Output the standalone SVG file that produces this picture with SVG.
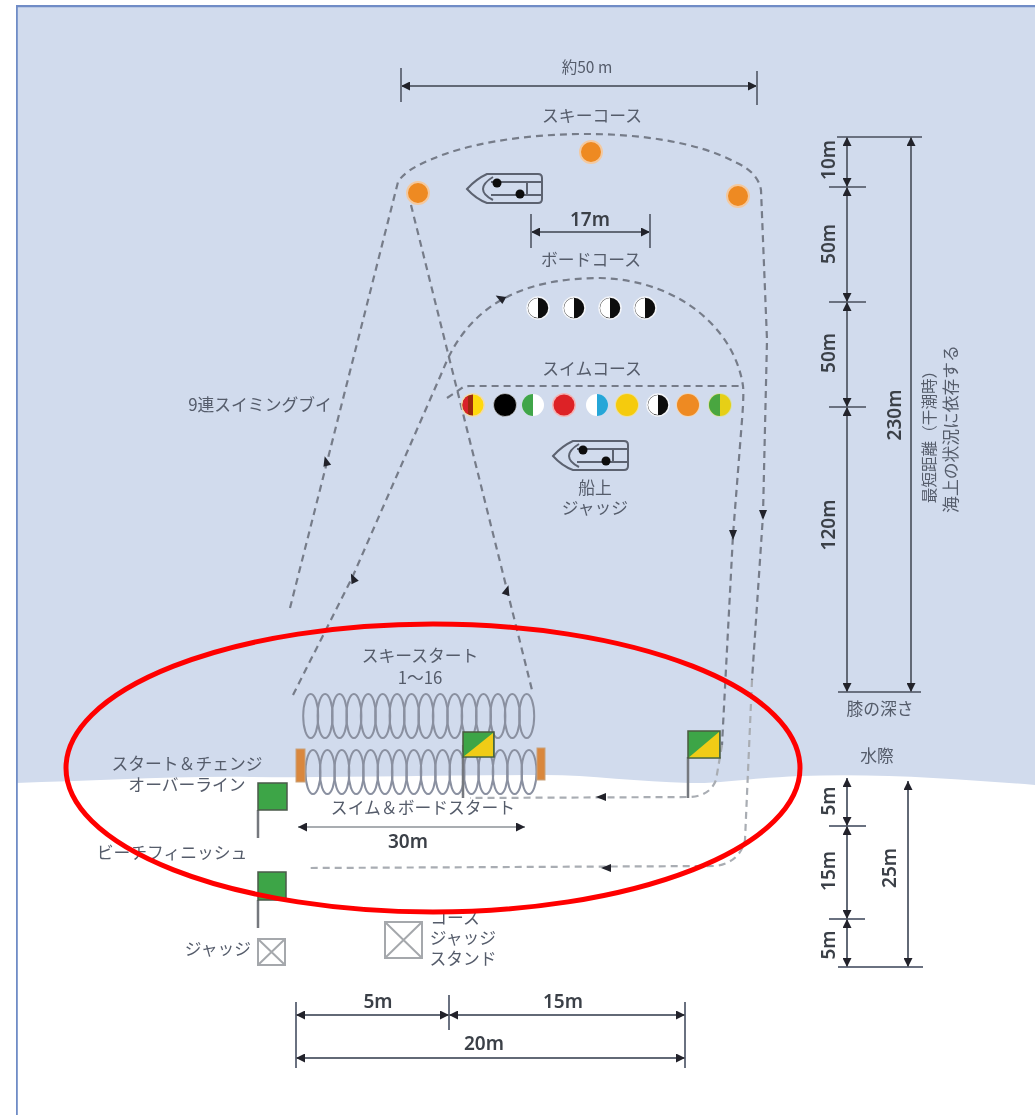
<svg xmlns="http://www.w3.org/2000/svg" xmlns:xlink="http://www.w3.org/1999/xlink" width="1035" height="1115" viewBox="0 0 1035 1115">
<style>
text{font-family:"Noto Sans CJK JP","Liberation Sans",sans-serif;fill:#555c6b;font-size:16.800px;text-anchor:middle}
.m{font-family:"Noto Sans","Noto Sans CJK JP",sans-serif;font-size:19px;fill:#3a3f47;font-weight:600}
.d{fill:none;stroke:#767c89;stroke-width:2.200;stroke-dasharray:7 5}
.dl{fill:none;stroke:#a9adb3;stroke-width:2.200;stroke-dasharray:7 5}
.dim{fill:none;stroke:#6a7180;stroke-width:2}
.dimb{fill:none;stroke:#626976;stroke-width:2;marker-start:url(#ah);marker-end:url(#ah)}
.coil{fill:none;stroke:#8a90a0;stroke-width:2}
.pole{stroke:#74787e;stroke-width:2.500;fill:none}
.fg{fill:#3ea546;stroke:#4a5a4a;stroke-width:1.500}
.j{fill:none;stroke:#a5a8ac;stroke-width:2}
</style>
<defs>
<filter id="soft" x="0" y="0" width="100%" height="100%"><feGaussianBlur stdDeviation="0.450"/></filter>
<marker id="ah" viewBox="0 0 10 10" refX="10" refY="5" markerWidth="9" markerHeight="9" markerUnits="userSpaceOnUse" orient="auto-start-reverse"><path d="M0 0L10 5L0 10Z" fill="#20242c"/></marker>
<path id="tri" d="M-4 -5L4 -5L0 5Z" fill="#20242c"/>
<clipPath id="halfL"><rect x="-12" y="-12" width="12" height="24"/></clipPath>
<clipPath id="halfR"><rect x="0" y="-12" width="12" height="24"/></clipPath>
<g id="boat" fill="none" stroke="#5c6270" stroke-width="2">
<path d="M20 0H71Q75 0 75 4V25Q75 29 71 29H20Q9 25 0 15Q9 5 20 0Z"/>
<path d="M26 3Q16 9 16 15Q16 21 26 26"/>
<path d="M24 8H74M24 21H74M60 8V21"/>
<circle cx="30" cy="9" r="4.500" fill="#0a0a0a" stroke="none"/>
<circle cx="53" cy="20" r="4.500" fill="#0a0a0a" stroke="none"/>
</g>
<g id="wb"><circle r="11" fill="#111" stroke="#f4f6fa" stroke-width="1.500"/><circle r="10" fill="#fff" clip-path="url(#halfL)"/></g>
</defs>

<rect width="1035" height="1115" fill="#fff"/>
<g filter="url(#soft)">
<g id="sea">
<path d="M16 5H1035V785C960 779 880 773 800 776C750 778 720 784 690 783C640 782 590 775 545 775C450 775 350 778 250 777C170 776 90 781 16 783Z" fill="#d1dbed"/>
<path d="M16.500 1115V6H1035" fill="none" stroke="#6f8cc6" stroke-width="2.600"/>
</g>

<g id="connectors">
<path class="d" d="M290 608L398 182Q405 170 430 160C500 128 660 122 735 162Q758 172 761 190L767 340L763 515L752 680"/>
<path class="dl" d="M752 680L745 840Q740 862 716 866L310 868"/>
<path class="d" d="M411 205L532 690"/>
<path class="d" d="M293 695L352 578L443 370C470 300 530 278 600 278C680 280 735 330 743 386Q744 395 742 420L733 535L722 745"/>
<path class="dl" d="M722 745L716 780Q710 796 690 797L470 798"/>
<path class="d" d="M447 398L462 388Q464 386 470 386H742"/>
<path class="d" d="M463 745V795" stroke-opacity=".7"/>
<use xlink:href="#tri" transform="translate(326 461) rotate(165)"/>
<use xlink:href="#tri" transform="translate(353 578) rotate(155)"/>
<use xlink:href="#tri" transform="translate(507 590) rotate(197)"/>
<use xlink:href="#tri" transform="translate(500 298) rotate(120)"/>
<use xlink:href="#tri" transform="translate(733 535)"/>
<use xlink:href="#tri" transform="translate(763 515)"/>
<use xlink:href="#tri" transform="translate(601 797) rotate(90)"/>
<use xlink:href="#tri" transform="translate(606 868) rotate(90)"/>
</g>

<g id="dim-top">
<path class="dimb" d="M401 86H757"/><path class="dim" d="M401 68V102M757 71V105"/>
<text x="587" y="73" style="font-size:15.500px">約50 m</text>
</g>
<g id="dim-17">
<path class="dimb" d="M531 232H650"/><path class="dim" d="M531 214V248M650 214V248"/>
<text class="m" x="590" y="226">17m</text>
</g>
<g id="dim-sea">
<path class="dim" d="M837 137H922M829 187H866M829 302H866M829 407H866M838 692H921"/>
<path class="dimb" d="M847 137V187"/><path class="dimb" d="M847 187V302"/><path class="dimb" d="M847 302V407"/><path class="dimb" d="M847 407V692"/><path class="dimb" d="M911 137V692"/>
<text class="m" transform="translate(835 160) rotate(-90)">10m</text>
<text class="m" transform="translate(835 244) rotate(-90)">50m</text>
<text class="m" transform="translate(835 353) rotate(-90)">50m</text>
<text class="m" transform="translate(835 525) rotate(-90)">120m</text>
<text class="m" transform="translate(901 415) rotate(-90)">230m</text>
<text transform="translate(935 433) rotate(-90)" style="font-size:15.600px">最短距離（干潮時）</text>
<text transform="translate(957 429) rotate(-90)" style="font-size:16.800px">海上の状況に依存する</text>
</g>
<g id="dim-beach">
<path class="dim" d="M829 826H866M829 919H865M838 967H923"/>
<path class="dimb" d="M847 778V826"/><path class="dimb" d="M847 826V919"/><path class="dimb" d="M847 919V967"/><path class="dimb" d="M908 781V967"/>
<text class="m" transform="translate(835 801) rotate(-90)">5m</text>
<text class="m" transform="translate(835 871) rotate(-90)">15m</text>
<text class="m" transform="translate(835 945) rotate(-90)">5m</text>
<text class="m" transform="translate(896 868) rotate(-90)">25m</text>
</g>
<g id="dim-bottom">
<path class="dim" d="M296 1002V1068M449 995V1030M685 1002V1068"/>
<path class="dimb" d="M296 1015H449"/><path class="dimb" d="M449 1015H685"/><path class="dimb" d="M296 1058H685"/>
<text class="m" x="378" y="1008">5m</text><text class="m" x="563" y="1008">15m</text><text class="m" x="484" y="1050">20m</text>
</g>
<g id="dim-30">
<path d="M298 827H525" fill="none" stroke="#a9adb1" stroke-width="2" marker-start="url(#ah)" marker-end="url(#ah)"/>
<text class="m" x="408" y="848">30m</text>
</g>

<g id="ski-buoys" fill="#ee8a22" stroke="#f3c9a0" stroke-width="2">
<circle cx="418" cy="193" r="11"/><circle cx="591" cy="152" r="11"/><circle cx="738" cy="196" r="11"/>
</g>
<g id="board-buoys">
<use xlink:href="#wb" x="538" y="308"/><use xlink:href="#wb" x="574" y="308"/><use xlink:href="#wb" x="610" y="308"/><use xlink:href="#wb" x="645" y="308"/>
</g>
<g id="swim-buoys">
<g transform="translate(473 405)"><circle r="12" fill="#f6d9a0" opacity=".8"/><circle r="10.500" fill="#ffd90f"/><path d="M0 -10.500A10.500 10.500 0 0 0 0 10.500Z" fill="#9c2a10"/><path d="M-5 -9.200A10.500 10.500 0 0 0 -5 9.200Z" fill="#d8202a"/></g>
<g transform="translate(505 405)"><circle r="11.500" fill="#050505" stroke="#fff" stroke-opacity=".5"/></g>
<g transform="translate(533 405)"><circle r="11" fill="#fff"/><circle r="11" fill="#3fa548" clip-path="url(#halfL)"/></g>
<g transform="translate(564 405)"><circle r="12" fill="#f3b3b3"/><circle r="10.500" fill="#dd2128"/></g>
<g transform="translate(597 405)"><circle r="11" fill="#fff"/><circle r="11" fill="#28a6d8" clip-path="url(#halfR)"/></g>
<g transform="translate(627 405)"><circle r="12" fill="#ecdfa0"/><circle r="11" fill="#f5cb0c"/></g>
<use xlink:href="#wb" x="658" y="405"/>
<g transform="translate(688 405)"><circle r="12" fill="#f0d5b5"/><circle r="11" fill="#ee8a22"/></g>
<g transform="translate(720 405)"><circle r="12" fill="#d5e2b0"/><circle r="11" fill="#e6cf18"/><circle r="11" fill="#4aa63f" clip-path="url(#halfL)"/></g>
</g>
<use id="boat-1" xlink:href="#boat" x="467" y="174"/>
<use id="boat-2" xlink:href="#boat" x="553" y="441"/>

<g id="ski-start-coils">
<ellipse class="coil" cx="310.700" cy="716" rx="7.500" ry="22"/><ellipse class="coil" cx="325.100" cy="716" rx="7.500" ry="22"/><ellipse class="coil" cx="339.500" cy="716" rx="7.500" ry="22"/><ellipse class="coil" cx="353.900" cy="716" rx="7.500" ry="22"/><ellipse class="coil" cx="368.300" cy="716" rx="7.500" ry="22"/><ellipse class="coil" cx="382.700" cy="716" rx="7.500" ry="22"/><ellipse class="coil" cx="397.100" cy="716" rx="7.500" ry="22"/><ellipse class="coil" cx="411.500" cy="716" rx="7.500" ry="22"/><ellipse class="coil" cx="425.900" cy="716" rx="7.500" ry="22"/><ellipse class="coil" cx="440.300" cy="716" rx="7.500" ry="22"/><ellipse class="coil" cx="454.700" cy="716" rx="7.500" ry="22"/><ellipse class="coil" cx="469.100" cy="716" rx="7.500" ry="22"/><ellipse class="coil" cx="483.500" cy="716" rx="7.500" ry="22"/><ellipse class="coil" cx="497.900" cy="716" rx="7.500" ry="22"/><ellipse class="coil" cx="512.300" cy="716" rx="7.500" ry="22"/><ellipse class="coil" cx="526.700" cy="716" rx="7.500" ry="22"/>
<ellipse class="coil" cx="313" cy="772" rx="7.500" ry="22"/><ellipse class="coil" cx="327.400" cy="772" rx="7.500" ry="22"/><ellipse class="coil" cx="341.800" cy="772" rx="7.500" ry="22"/><ellipse class="coil" cx="356.200" cy="772" rx="7.500" ry="22"/><ellipse class="coil" cx="370.600" cy="772" rx="7.500" ry="22"/><ellipse class="coil" cx="385" cy="772" rx="7.500" ry="22"/><ellipse class="coil" cx="399.400" cy="772" rx="7.500" ry="22"/><ellipse class="coil" cx="413.800" cy="772" rx="7.500" ry="22"/><ellipse class="coil" cx="428.200" cy="772" rx="7.500" ry="22"/><ellipse class="coil" cx="442.600" cy="772" rx="7.500" ry="22"/><ellipse class="coil" cx="457" cy="772" rx="7.500" ry="22"/><ellipse class="coil" cx="471.400" cy="772" rx="7.500" ry="22"/><ellipse class="coil" cx="485.800" cy="772" rx="7.500" ry="22"/><ellipse class="coil" cx="500.200" cy="772" rx="7.500" ry="22"/><ellipse class="coil" cx="514.600" cy="772" rx="7.500" ry="22"/><ellipse class="coil" cx="529" cy="772" rx="7.500" ry="22"/>
</g>
<g id="line-markers" fill="#d9873c" stroke="#c9a27a" stroke-width="1">
<rect x="296" y="749" width="9" height="33"/><rect x="537" y="748" width="8" height="32"/>
</g>
<g id="flag-swim">
<path class="pole" d="M463 757V798"/><rect x="463" y="732" width="31" height="25" fill="#3ea546" stroke="#4a5a40" stroke-width="1.500"/><path d="M464 756.300L493 733V756.300Z" fill="#f0cc16"/>
</g>
<g id="flag-board">
<path class="pole" d="M688 757V798"/><rect x="688" y="731" width="32" height="27" fill="#3ea546" stroke="#4a5a40" stroke-width="1.500"/><path d="M689 757.300L719 732V757.300Z" fill="#f0cc16"/>
</g>
<g id="flag-line"><path class="pole" d="M258 810V838"/><rect class="fg" x="258" y="783" width="29" height="27"/></g>
<g id="flag-finish"><path class="pole" d="M258 900V928"/><rect class="fg" x="258" y="872" width="28" height="28"/></g>
<g id="judge-1"><rect class="j" x="258" y="939" width="27" height="26"/><path class="j" d="M258 939L285 965M285 939L258 965"/></g>
<g id="judge-stand"><rect class="j" x="385" y="922" width="37" height="36"/><path class="j" d="M385 922L422 958M422 922L385 958"/></g>

<g id="labels">
<text x="592" y="122">スキーコース</text>
<text x="591" y="266">ボードコース</text>
<text x="592" y="375">スイムコース</text>
<text x="260" y="411">9連スイミングブイ</text>
<text x="595" y="494">船上</text>
<text x="595" y="514">ジャッジ</text>
<text x="420" y="662">スキースタート</text>
<text x="420" y="684">1～16</text>
<text x="187" y="770">スタート＆チェンジ</text>
<text x="187" y="791">オーバーライン</text>
<text x="423" y="814">スイム＆ボードスタート</text>
<text x="172" y="859">ビーチフィニッシュ</text>
<text x="218" y="955">ジャッジ</text>
<text x="455" y="924">コース</text>
<text x="463" y="944">ジャッジ</text>
<text x="463" y="965">スタンド</text>
<text x="880" y="715">膝の深さ</text>
<text x="877" y="762">水際</text>
</g>
</g>
<ellipse id="highlight" cx="433" cy="768" rx="367" ry="144" fill="none" stroke="#f00" stroke-width="5"/>
</svg>
